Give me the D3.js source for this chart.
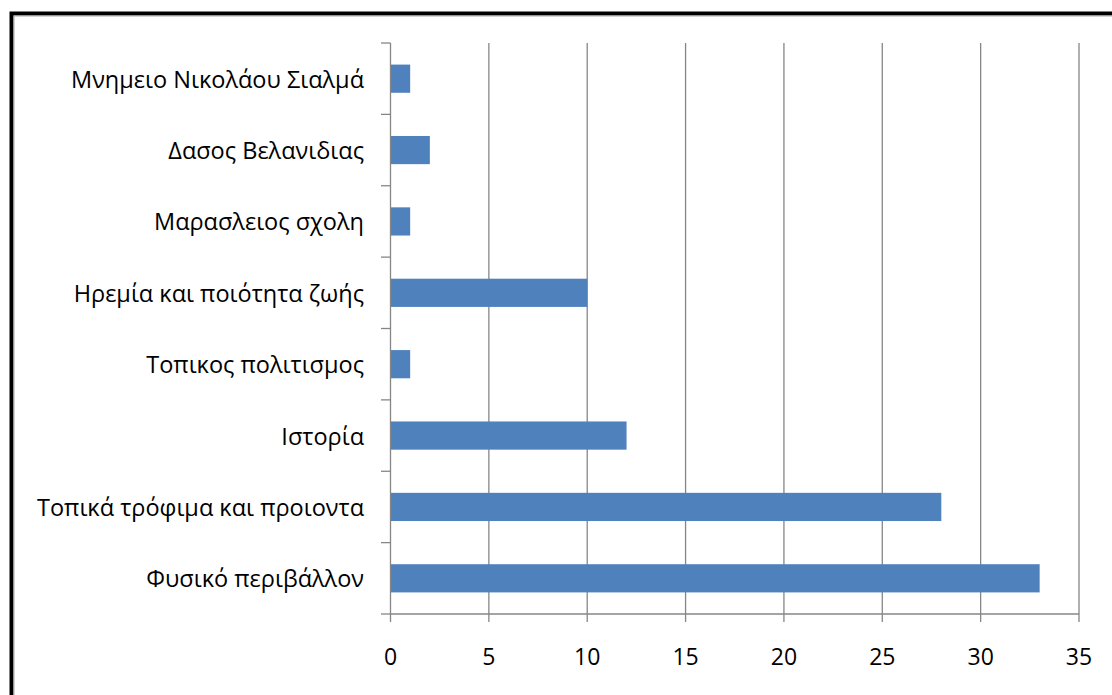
<!DOCTYPE html>
<html><head><meta charset="utf-8">
<script src="https://cdn.jsdelivr.net/npm/d3@7"></script>
<style>body{margin:0;background:#fff}svg{display:block}</style>
</head><body>
<svg id="c" width="1112" height="695"></svg>
<script>
const categories = ["Μνημειο Νικολάου Σιαλμά","Δασος Βελανιδιας","Μαρασλειος σχολη","Ηρεμία και ποιότητα ζωής","Τοπικος πολιτισμος","Ιστορία","Τοπικά τρόφιμα και προιοντα","Φυσικό περιβάλλον"];
const values = [1,2,1,10,1,12,28,33];
const xTicks = [0,5,10,15,20,25,30,35];

const svg = d3.select("#c");
const font = "'Open Sans', 'Noto Sans', sans-serif";
// frame
svg.append("rect").attr("x",11.5).attr("y",13.5).attr("width",1200).attr("height",800)
  .attr("fill","none").attr("stroke","#000").attr("stroke-width",4);
svg.append("rect").attr("x",14).attr("y",16).attr("width",1200).attr("height",800)
  .attr("fill","none").attr("stroke","#aaa").attr("stroke-width",1);

const x = d3.scaleLinear().domain([0,35]).range([390.5,1079]);
const y = d3.scaleBand().domain(categories).range([43,614]).paddingInner(0.605).paddingOuter(0.3025);
const band = d3.scaleBand().domain(categories).range([43,614]);

const g = svg.append("g");
// gridlines
g.selectAll("line.grid").data(xTicks.slice(1)).join("line")
  .attr("x1",d=>x(d)).attr("x2",d=>x(d)).attr("y1",43).attr("y2",622)
  .attr("stroke","#868686").attr("stroke-width",1.3);
// bars
g.selectAll("rect.bar").data(values).join("rect")
  .attr("x",x(0)).attr("y",(d,i)=>y(categories[i]))
  .attr("width",d=>x(d)-x(0)).attr("height",y.bandwidth())
  .attr("fill","#4F81BD");
// y axis line + ticks
g.append("line").attr("x1",x(0)).attr("x2",x(0)).attr("y1",43).attr("y2",622).attr("stroke","#868686").attr("stroke-width",1.3);
const yTickPos = categories.map(c=>band(c)).concat([614]);
g.selectAll("line.yt").data(yTickPos).join("line")
  .attr("x1",381).attr("x2",x(0)).attr("y1",d=>d).attr("y2",d=>d)
  .attr("stroke","#868686").attr("stroke-width",1.3);
// x axis line
g.append("line").attr("x1",x(0)).attr("x2",x(35)).attr("y1",614).attr("y2",614).attr("stroke","#868686").attr("stroke-width",1.3);
// category labels
g.selectAll("text.cat").data(categories).join("text")
  .attr("x",364).attr("y",d=>band(d)+band.bandwidth()/2)
  .attr("text-anchor","end").attr("dominant-baseline","central")
  .attr("font-family",font).attr("font-size",23.5).attr("fill","#000")
  .text(d=>d);
// x tick labels
g.selectAll("text.xt").data(xTicks).join("text")
  .attr("x",d=>x(d)).attr("y",656)
  .attr("text-anchor","middle").attr("dominant-baseline","central")
  .attr("font-family",font).attr("font-size",23).attr("fill","#000")
  .text(d=>d);
</script>
</body></html>
